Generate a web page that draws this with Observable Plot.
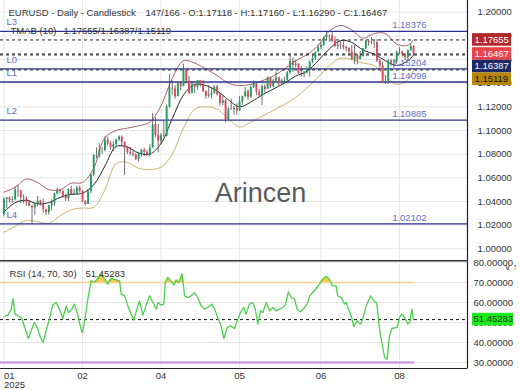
<!DOCTYPE html>
<html><head><meta charset="utf-8">
<script src="https://cdn.jsdelivr.net/npm/d3@7"></script>
<script src="https://cdn.jsdelivr.net/npm/@observablehq/plot@0.6"></script>
<style>
html,body{margin:0;padding:0;background:#fff;}
#chart{width:520px;height:390px;position:relative;overflow:hidden;}
#chart svg{display:block;}
</style></head><body><div id="chart"></div>
<script>
const FONT = '"Liberation Sans", Arial, sans-serif';
const titleLeft = "EURUSD - Daily - Candlestick";
const titleRight = "147/166 - O:1.17118 - H:1.17160 - L:1.16290 - C:1.16467";
const tmabLabel = "TMAB (10)";
const tmabValues = "1.17655/1.16387/1.15119";
const rsiLabel = "RSI (14, 70, 30)";
const watermark = "Arincen";

const firstOpen = 1.0290;
const closes = [1.0417,1.0430,1.0408,1.0415,1.0495,1.0491,1.0431,1.0423,1.0390,1.0362,
1.0345,1.0380,1.0403,1.0381,1.0330,1.0307,1.0362,1.0385,1.0464,1.0493,
1.0484,1.0446,1.0422,1.0501,1.0459,1.0465,1.0514,1.0485,1.0398,1.0375,
1.0483,1.0625,1.0789,1.0785,1.0834,1.0833,1.0918,1.0889,1.0853,1.0880,
1.0922,1.0944,1.0899,1.0853,1.0815,1.0802,1.0791,1.0754,1.0799,1.0833,
1.0815,1.0791,1.0851,1.1050,1.0958,1.0909,1.0956,1.0952,1.1197,1.1357,
1.1352,1.1285,1.1399,1.1369,1.1511,1.1419,1.1312,1.1391,1.1365,1.1422,
1.1382,1.1329,1.1290,1.1299,1.1315,1.1369,1.1301,1.1229,1.1251,1.1089,
1.1181,1.1175,1.1189,1.1164,1.1242,1.1286,1.1328,1.1281,1.1364,1.1389,
1.1326,1.1294,1.1369,1.1347,1.1443,1.1370,1.1418,1.1445,1.1396,1.1421,
1.1422,1.1487,1.1585,1.1549,1.1562,1.1479,1.1479,1.1495,1.1523,1.1579,
1.1610,1.1662,1.1701,1.1719,1.1787,1.1803,1.1800,1.1756,1.1710,1.1725,
1.1718,1.1701,1.1690,1.1663,1.1598,1.1640,1.1598,1.1627,1.1690,1.1753,
1.1741,1.1743,1.1741,1.1587,1.1545,1.1404,1.1415,1.1587,1.1572,1.1576,
1.1661,1.1665,1.1642,1.1616,1.1675,1.17118,1.16467];
const highs = [1.0433,1.0435,1.0440,1.0440,1.0522,1.0533,1.0493,1.0455,1.0441,1.0410,
1.0365,1.0390,1.0442,1.0410,1.0420,1.0335,1.0370,1.0415,1.0470,1.0513,
1.0500,1.0497,1.0460,1.0505,1.0528,1.0505,1.0528,1.0530,1.0490,1.0410,
1.0500,1.0630,1.0797,1.0854,1.0888,1.0856,1.0947,1.0946,1.0905,1.0906,
1.0925,1.0955,1.0955,1.0905,1.0860,1.0857,1.0828,1.0804,1.0810,1.0843,
1.0848,1.0832,1.0880,1.1144,1.1107,1.1050,1.0975,1.1080,1.1215,1.1474,
1.1420,1.1380,1.1406,1.1405,1.1560,1.1520,1.1458,1.1407,1.1387,1.1425,
1.1420,1.1425,1.1335,1.1380,1.1358,1.1380,1.1380,1.1315,1.1290,1.1260,
1.1191,1.1265,1.1202,1.1227,1.1285,1.1290,1.1364,1.1345,1.1377,1.1419,
1.1400,1.1345,1.1384,1.1385,1.1454,1.1450,1.1434,1.1495,1.1452,1.1435,
1.1450,1.1498,1.1632,1.1614,1.1593,1.1560,1.1540,1.1500,1.1540,1.1585,
1.1640,1.1663,1.1720,1.1743,1.1790,1.1830,1.1810,1.1830,1.1790,1.1750,
1.1750,1.1750,1.1712,1.1700,1.1720,1.1720,1.1640,1.1670,1.1695,1.1760,
1.1760,1.1788,1.1760,1.1770,1.1600,1.1578,1.1460,1.1598,1.1598,1.1600,
1.1670,1.1699,1.1670,1.1650,1.1680,1.1730,1.17160];
const lows = [1.0268,1.0340,1.0385,1.0385,1.0405,1.0433,1.0382,1.0380,1.0362,1.0355,
1.0210,1.0285,1.0355,1.0360,1.0300,1.0283,1.0285,1.0320,1.0360,1.0455,
1.0462,1.0430,1.0400,1.0400,1.0455,1.0450,1.0457,1.0470,1.0390,1.0360,
1.0380,1.0465,1.0610,1.0760,1.0765,1.0795,1.0818,1.0870,1.0832,1.0822,
1.0861,1.0908,1.0860,1.0620,1.0797,1.0785,1.0777,1.0745,1.0733,1.0776,
1.0778,1.0778,1.0775,1.0847,1.0940,1.0811,1.0880,1.0945,1.0945,1.1188,
1.1300,1.1265,1.1290,1.1335,1.1379,1.1395,1.1305,1.1313,1.1314,1.1340,
1.1367,1.1320,1.1265,1.1273,1.1266,1.1305,1.1292,1.1207,1.1211,1.1065,
1.1088,1.1172,1.1130,1.1130,1.1160,1.1213,1.1278,1.1255,1.1272,1.1355,
1.1295,1.1280,1.1210,1.1315,1.1355,1.1355,1.1359,1.1410,1.1373,1.1385,
1.1395,1.1417,1.1474,1.1490,1.1530,1.1474,1.1450,1.1445,1.1475,1.1452,
1.1565,1.1590,1.1665,1.1685,1.1708,1.1760,1.1745,1.1745,1.1700,1.1683,
1.1685,1.1680,1.1664,1.1652,1.1593,1.1556,1.1555,1.1600,1.1620,1.1680,
1.1713,1.1725,1.1695,1.1575,1.1520,1.1400,1.1390,1.1391,1.1540,1.1527,
1.1560,1.1640,1.1620,1.1590,1.1590,1.1670,1.16290];

const bandIdx = [0,4,8,12,16,20,24,28,32,36,40,44,48,52,56,60,64,68,72,76,80,84,88,92,96,100,104,108,112,116,120,124,128,132,136,140,144,146];
const bandUpper = [1.0478,1.052,1.059,1.056,1.050,1.050,1.0555,1.056,1.068,1.094,
1.100,1.102,1.104,1.107,1.121,1.144,1.159,1.157,1.152,1.1465,
1.140,1.138,1.139,1.142,1.146,1.152,1.159,1.164,1.172,1.184,
1.1888,1.185,1.178,1.182,1.182,1.173,1.172,1.17655];
const bandMid = [1.031,1.039,1.041,1.038,1.039,1.0435,1.046,1.047,1.054,1.070,
1.0865,1.086,1.081,1.080,1.089,1.110,1.130,1.139,1.138,1.1335,
1.126,1.120,1.124,1.130,1.135,1.140,1.146,1.150,1.159,1.169,
1.176,1.1745,1.168,1.1645,1.159,1.155,1.159,1.16387];
const bandLower = [1.014,1.019,1.024,1.023,1.0215,1.028,1.033,1.0345,1.035,1.050,
1.072,1.073,1.068,1.067,1.069,1.080,1.102,1.118,1.120,1.118,
1.110,1.103,1.107,1.112,1.117,1.122,1.128,1.136,1.145,1.155,
1.161,1.160,1.157,1.155,1.146,1.139,1.143,1.15119];

const rsiIdx = [0,1.4,2.6,3.2,4,5.5,6.4,7.6,8.7,9.9,
10.9,12.1,13,14,15,16.2,17.4,18.6,19.8,21,
22.2,23,24.2,25.1,26.1,27.2,27.9,28.7,29.9,31.1,
32.3,33.5,34.7,35.8,37,38.2,40,41.2,41.8,43,
44.2,45.3,46.3,47.1,48.3,49.5,50.7,51.9,53.1,54.3,
54.9,56,57,57.5,58.4,59.6,60.6,61.4,62.3,63.5,
64.4,65.5,66.7,67.9,69.1,70.3,71.5,72.7,74.1,75.1,
76.2,77.4,78.4,79.6,80.8,82.2,83.1,84.3,85.5,86.3,
87.5,88.7,89.6,90.5,91.5,92.3,93.5,94.7,95.9,97,
98.2,99.4,100.3,101.4,102.4,103.6,104.5,105.7,106.9,108.1,
109,110.1,111.3,112.5,113.7,114.9,115.8,116.7,117.2,118.4,
119,120.2,121.4,122,122.8,123.8,124.7,125.9,127.1,127.9,
129.1,130.7,131.9,132.9,133.9,134.7,135.7,136.6,137.4,138.3,
139.2,140.2,141,141.8,142.8,144,144.7,145.4,146];
const rsiVal = [53.0,53.7,56.7,62.0,54.2,53.0,52.0,46.7,42.0,46.7,
50.0,46.7,42.5,40.0,45.8,51.7,58.7,60.0,56.7,52.0,
58.3,55.0,56.7,59.2,55.0,48.3,45.0,50.0,61.7,70.8,
70.3,72.0,74.2,72.0,69.2,72.0,71.3,70.8,64.2,63.3,
58.3,54.2,51.3,55.3,60.8,53.7,58.7,63.3,60.0,56.7,
60.0,58.7,59.2,70.0,72.5,70.8,68.7,71.3,70.0,74.2,
63.3,62.5,63.3,65.0,62.5,58.3,56.7,57.5,59.2,56.7,
52.5,48.3,42.0,47.5,48.3,47.0,50.8,55.0,57.5,54.2,
59.2,60.0,56.7,49.2,55.8,55.0,60.0,55.8,57.5,55.8,
56.7,57.5,58.7,65.3,62.5,61.7,56.7,55.3,57.0,59.2,
63.3,65.0,67.0,69.2,71.7,73.0,72.0,69.7,68.3,68.3,
63.3,62.5,59.2,60.0,56.7,53.3,48.0,50.8,49.2,51.7,
58.3,63.3,60.8,59.7,46.7,40.0,32.5,31.7,43.3,47.0,
47.3,47.5,52.5,54.2,52.5,49.2,50.0,56.7,51.45283];
const rsiLast = 51.45283;

const levelNames = ["L3","L0","L1","L2","L4"];
const levelValues = [1.18376,1.15204,1.14099,1.10885,1.02102];
const markerValues = [1.17655,1.16467,1.16387,1.15119];
const markerFills = ["#b3282d","#e8434b","#1d2a66","#b8860b"];
const markerTextFills = ["#ffffff","#ffffff","#ffffff","#111111"];
const priceTicks = [1.00,1.02,1.04,1.06,1.08,1.10,1.12,1.14,1.16,1.18,1.20];
const rsiTicks = [30,40,50,60,70,80];
const xTickIdx = [0,28,56,84,113,141];
const xTickLabels = ["01\n2025","02","04","05","06","08"];

const bars = closes.map((c, i) => ({i, o: i === 0 ? firstOpen : closes[i - 1], h: highs[i], l: lows[i], c}));
const bands = bandIdx.map((i, k) => ({i, up: bandUpper[k], mid: bandMid[k], lo: bandLower[k]}));
const rsi = rsiIdx.map((i, k) => ({i, v: rsiVal[k]}));
const levels = levelNames.map((n, k) => ({n, v: levelValues[k]}));
const xticks = xTickIdx.map((i, k) => ({i, t: xTickLabels[k]}));
const lastIdx = closes.length - 1;

const W = 520, MR = 53;
const xDomain = [-1.23, 165.25];
const UP = "#1f9e62", DOWN = "#e0465a";
const candleColor = d => d.c >= d.o ? UP : DOWN;
const style = {fontFamily: FONT, fontSize: "9.5px", background: "transparent", overflow: "hidden", color: "#333"};

const main = Plot.plot({
  width: W, height: 260, marginLeft: 0, marginRight: MR, marginTop: 0, marginBottom: 0,
  x: {domain: xDomain, axis: null},
  y: {domain: [0.99011, 1.20989]},
  style,
  marks: [
    Plot.ruleY(priceTicks, {stroke: "#e6e6e6"}),
    Plot.ruleX(xTickIdx, {stroke: "#e6e6e6"}),
    Plot.text([watermark], {text: d => d, frameAnchor: "middle", dx: 26.5, dy: 63, fontSize: 27, fill: "#5a5a5a"}),
    Plot.line(bands, {x: "i", y: "up", stroke: "#a8606e", strokeWidth: 1, curve: "catmull-rom"}),
    Plot.line(bands, {x: "i", y: "lo", stroke: "#c8b46a", strokeWidth: 1, curve: "catmull-rom"}),
    Plot.line(bands, {x: "i", y: "mid", stroke: "#2a2a2a", strokeWidth: 1, curve: "catmull-rom"}),
    Plot.ruleY(levels, {y: "v", stroke: "#2e3190", strokeWidth: 1.3}),
    Plot.ruleY(markerValues, {stroke: "#222", strokeWidth: 1, strokeDasharray: "3,3"}),
    Plot.ruleX(bars, {x: "i", y1: "l", y2: "h", stroke: "#4a4a4a", strokeWidth: 0.8}),
    Plot.ruleX(bars, {x: "i", y1: "o", y2: "c", stroke: candleColor, strokeWidth: 1.9}),
    Plot.text(levels, {y: "v", text: "n", frameAnchor: "left", dx: 6, dy: -9, textAnchor: "start", fill: "#5f6fc6"}),
    Plot.text(levels, {y: "v", text: d => d.v.toFixed(5), frameAnchor: "right", dx: -41, dy: -6, textAnchor: "end", fill: "#5f6fc6"}),
    Plot.text([titleLeft], {text: d => d, frameAnchor: "top-left", dx: 8, dy: 12.5, textAnchor: "start", lineAnchor: "middle", fill: "#333"}),
    Plot.text([titleRight], {text: d => d, frameAnchor: "top-left", dx: 145, dy: 12.5, textAnchor: "start", lineAnchor: "middle", fill: "#333"}),
    Plot.text([tmabLabel], {text: d => d, frameAnchor: "top-left", dx: 10, dy: 30, textAnchor: "start", lineAnchor: "middle", fill: "#333"}),
    Plot.text([tmabValues], {text: d => d, frameAnchor: "top-left", dx: 63, dy: 30, textAnchor: "start", lineAnchor: "middle", fill: "#333"}),
    Plot.axisY(priceTicks, {anchor: "right", tickSize: 0, tickPadding: 10, tickFormat: d => d.toFixed(5), fill: "#333"})
  ]
});

const rsiPlot = Plot.plot({
  width: W, height: 130, marginLeft: 0, marginRight: MR, marginTop: 0, marginBottom: 22,
  x: {domain: xDomain, axis: null},
  y: {domain: [27, 81]},
  style,
  marks: [
    Plot.ruleY(rsiTicks, {stroke: "#e6e6e6"}),
    Plot.ruleX(xTickIdx, {stroke: "#e6e6e6"}),
    Plot.areaY(rsi, {x: "i", y1: 70, y2: d => Math.max(70, d.v), fill: "#f2c230", fillOpacity: 0.85}),
    Plot.ruleY([70], {x1: xDomain[0], x2: lastIdx + 0.5, stroke: "#f5cf8a", strokeWidth: 1.5}),
    Plot.ruleY([30], {x1: xDomain[0], x2: lastIdx + 0.5, stroke: "#c9a0dc", strokeWidth: 2.5}),
    Plot.ruleY([rsiLast], {stroke: "#111", strokeWidth: 1, strokeDasharray: "3,3"}),
    Plot.line(rsi, {x: "i", y: "v", stroke: "#4cd04c", strokeWidth: 1.3}),
    Plot.text([rsiLabel], {text: d => d, frameAnchor: "top-left", dx: 9, dy: 13, textAnchor: "start", lineAnchor: "middle", fill: "#333"}),
    Plot.text([rsiLast.toFixed(5)], {text: d => d, frameAnchor: "top-left", dx: 85, dy: 13, textAnchor: "start", lineAnchor: "middle", fill: "#333"}),
    Plot.text(xticks.slice(0, 1), {x: "i", text: "t", frameAnchor: "bottom", lineAnchor: "top", dy: 3.5, textAnchor: "start", fill: "#333"}),
    Plot.text(xticks.slice(1), {x: "i", text: "t", frameAnchor: "bottom", lineAnchor: "top", dy: 3.5, textAnchor: "middle", fill: "#333"}),
    Plot.axisY(rsiTicks, {anchor: "right", tickSize: 0, tickPadding: 6, tickFormat: d => d.toFixed(5), fill: "#333"})
  ]
});

function addTags(plot, values, fills, textFills, x0, w, h, tx) {
  const ys = plot.scale("y");
  const svg = d3.select(plot);
  const g = svg.append("g").attr("font-family", FONT).attr("font-size", "9.5px").attr("text-anchor", "start");
  const order = values.map((v, k) => k).sort((a, b) => values[b] - values[a]);
  let prev = -Infinity;
  for (const k of order) {
    let y = ys.apply(values[k]);
    if (y < prev + h) y = prev + h;
    prev = y;
    g.append("rect").attr("x", x0).attr("y", y - h / 2).attr("width", w).attr("height", h).attr("fill", fills[k]);
    g.append("text").attr("x", x0 + tx).attr("y", y).attr("dy", "0.35em").attr("text-anchor", "start").attr("fill", textFills[k]).text(values[k].toFixed(5));
  }
}
function addBorders(plot, top, bottom) {
  const xs = plot.scale("x");
  const ys = plot.scale("y");
  const svg = d3.select(plot);
  const xr = Math.max(...xs.range);
  const yr = ys.range;
  const yTop = Math.min(...yr), yBot = Math.max(...yr);
  svg.append("line").attr("x1", xr + 0.5).attr("x2", xr + 0.5).attr("y1", yTop).attr("y2", yBot).attr("stroke", "#222").attr("stroke-width", 1.2);
  if (top) svg.append("line").attr("x1", 0).attr("x2", xr + 0.5).attr("y1", yTop + 0.75).attr("y2", yTop + 0.75).attr("stroke", "#333").attr("stroke-width", 1.5);
  if (bottom) svg.append("line").attr("x1", 0).attr("x2", xr + 0.5).attr("y1", yBot + 0.5).attr("y2", yBot + 0.5).attr("stroke", "#222").attr("stroke-width", 1.2);
}
addTags(main, markerValues, markerFills, markerTextFills, 472, 39, 12.6, 2.5);
addTags(rsiPlot, [rsiLast], ["#1ee81e"], ["#0b3d0b"], 472, 41, 12.6, 1.5);
addBorders(main, false, false);
addBorders(rsiPlot, true, true);

const root = document.getElementById("chart");
root.appendChild(main);
root.appendChild(rsiPlot);
</script>
</body></html>
